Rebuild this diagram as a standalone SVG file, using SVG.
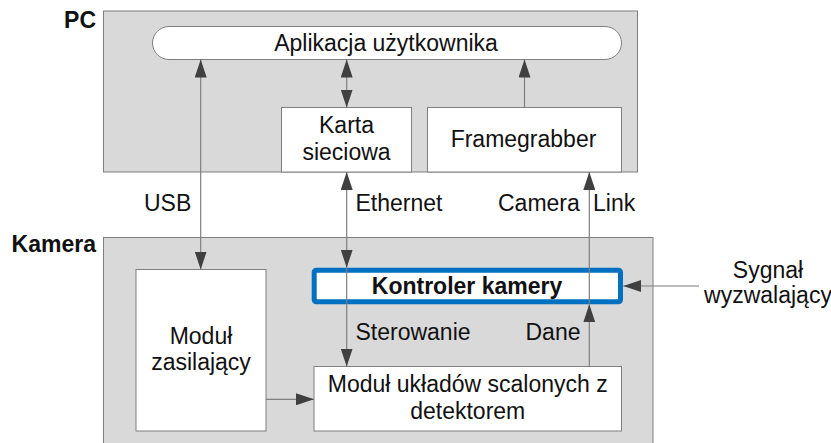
<svg xmlns="http://www.w3.org/2000/svg" width="831" height="443" viewBox="0 0 831 443">
  <style>
    .area { fill: #d9d9d9; stroke: #7f7f7f; stroke-width: 1; }
    .box { fill: #ffffff; stroke: #7f7f7f; stroke-width: 1; }
    .ctrl { fill: #ffffff; stroke: #0070c0; stroke-width: 5; }
    .t { font-family: "Liberation Sans", Arial, sans-serif; font-size: 23px; fill: #111111; }
    .c { text-anchor: middle; }
    .b { font-weight: bold; }
    .wire { fill: none; stroke: #7f7f7f; stroke-width: 1.2; }
  </style>
  <defs>
    <marker id="head" markerUnits="userSpaceOnUse" markerWidth="18" markerHeight="12" refX="18" refY="6" orient="auto-start-reverse">
      <path d="M0,0 L18,6 L0,12 z" fill="#404040"/>
    </marker>
  </defs>

  <!-- PC enclosure -->
  <g id="pc">
    <rect class="area" x="103.5" y="11" width="534" height="161"/>
    <text class="t b" x="96" y="27.5" text-anchor="end">PC</text>
  </g>
  <g id="app">
    <rect class="box" x="152.5" y="26.5" width="469" height="33" rx="16.5"/>
    <text class="t c" x="386" y="51">Aplikacja użytkownika</text>
  </g>
  <g id="nic">
    <rect class="box" x="281.5" y="107.5" width="130" height="64.5"/>
    <text class="t c" x="346.5" y="133">Karta</text>
    <text class="t c" x="346.5" y="159.5">sieciowa</text>
  </g>
  <g id="framegrabber">
    <rect class="box" x="427.5" y="107.5" width="194" height="64.5"/>
    <text class="t c" x="523.5" y="147">Framegrabber</text>
  </g>

  <!-- Camera enclosure -->
  <g id="camera">
    <rect class="area" x="103.5" y="237.5" width="549.5" height="215"/>
    <text class="t b" x="96" y="251.5" text-anchor="end">Kamera</text>
  </g>
  <g id="power">
    <rect class="box" x="136" y="269.5" width="130" height="161.5"/>
    <text class="t c" x="201" y="343.5">Moduł</text>
    <text class="t c" x="201" y="369.5">zasilający</text>
  </g>
  <g id="detector">
    <rect class="box" x="314" y="366.5" width="307.5" height="64.5"/>
    <text class="t c" x="467.75" y="392">Moduł układów scalonych z</text>
    <text class="t c" x="467.75" y="418.5">detektorem</text>
  </g>
  <g id="controller">
    <rect class="ctrl" x="314.2" y="270.2" width="306.3" height="31.6" rx="2"/>
    <text class="t c b" x="467" y="294">Kontroler kamery</text>
  </g>
  <g id="trigger">
    <text class="t c" x="768" y="278">Sygnał</text>
    <text class="t c" x="768" y="303">wyzwalający</text>
  </g>

  <!-- Connectors -->
  <g id="connectors">
    <!-- USB -->
    <path class="wire" d="M200.7,269.5 V59.5" marker-start="url(#head)" marker-end="url(#head)"/>
    <!-- application to network card -->
    <path class="wire" d="M346.7,107.5 V59.5" marker-start="url(#head)" marker-end="url(#head)"/>
    <!-- framegrabber to application -->
    <path class="wire" d="M524.5,107.5 V59.5" marker-end="url(#head)"/>
    <!-- Ethernet / control -->
    <path class="wire" d="M346.7,172 V267.7" marker-start="url(#head)" marker-end="url(#head)"/>
    <path class="wire" d="M346.7,267.7 V366.5" marker-end="url(#head)"/>
    <!-- data / Camera Link -->
    <path class="wire" d="M589.3,366.5 V304.3" marker-end="url(#head)"/>
    <path class="wire" d="M589.3,304.3 V172" marker-end="url(#head)"/>
    <!-- power supply to detector module -->
    <path class="wire" d="M266,399.3 H314" marker-end="url(#head)"/>
    <!-- trigger signal -->
    <path class="wire" d="M699,286 H623.3" marker-end="url(#head)"/>
  </g>

  <!-- Link labels -->
  <g id="labels">
    <text class="t" x="144" y="211">USB</text>
    <text class="t" x="355.5" y="211">Ethernet</text>
    <text class="t" x="498" y="211">Camera<tspan x="593">Link</tspan></text>
    <text class="t" x="355.5" y="340">Sterowanie</text>
    <text class="t" x="525.5" y="340">Dane</text>
  </g>
</svg>
